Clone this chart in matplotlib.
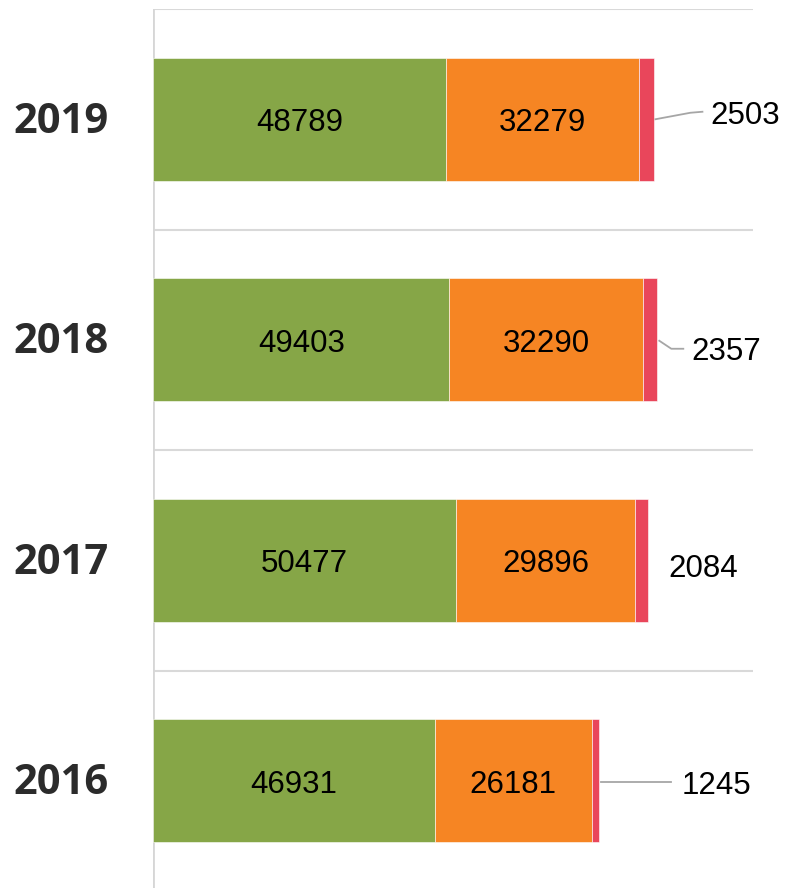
import numpy as np
import matplotlib.pyplot as plt
from matplotlib.transforms import offset_copy

# data, bottom to top
years = ['2016', '2017', '2018', '2019']
green_vals = [46931, 50477, 49403, 48789]
orange_vals = [26181, 29896, 32290, 32279]
red_vals = [1245, 2084, 2357, 2503]

colors = ['#86a647', '#f68523', '#e9465b']

fig = plt.figure(figsize=(7.85, 8.88), dpi=100)
ax = fig.add_axes([153/785, -3/888, 600/785, 882/888])

y = np.arange(len(years))
g = np.array(green_vals)
o = np.array(orange_vals)
r = np.array(red_vals)

ax.barh(y, g, height=0.56, color=colors[0], edgecolor='white', linewidth=0.4)
ax.barh(y, o, left=g, height=0.56, color=colors[1], edgecolor='white', linewidth=0.4)
ax.barh(y, r, left=g + o, height=0.56, color=colors[2], edgecolor='white', linewidth=0.4)

ax.set_xlim(0, 100000)
ax.set_ylim(-0.5, 3.5)

# band separators
for b in [0.5, 1.5, 2.5, 3.5]:
    ax.axhline(b, color='#d9d9d9', lw=1.5, zorder=0)
ax.axvline(0, color='#d6d6d6', lw=2, zorder=0)

for s in ax.spines.values():
    s.set_visible(False)
ax.set_xticks([])
ax.set_yticks([])

lab_font = dict(fontsize=22.5, family=['Liberation Sans', 'DejaVu Sans'], color='black')
# nudge text down a little, va='center' sits digits slightly high
tr_in = offset_copy(ax.transData, fig=fig, x=0, y=-4, units='dots')
tr_year = offset_copy(ax.get_yaxis_transform(), fig=fig, x=0, y=-3, units='dots')

for i in range(len(years)):
    ax.text(g[i] / 2, y[i], str(g[i]), transform=tr_in, ha='center', va='center', **lab_font)
    ax.text(g[i] + o[i] / 2, y[i], str(o[i]), transform=tr_in, ha='center', va='center', **lab_font)
    ax.text(-0.232, y[i], years[i], transform=tr_year,
            ha='left', va='center', fontsize=30, fontweight='bold',
            family=['Open Sans', 'DejaVu Sans'], color='#2b2b2b')

# outside labels for the small red segment, offsets in pixels
leaders = [
    [(2, -1), (72, -1)],
    [],
    [(2, -1), (14, -9), (26, -9)],
    [(1, 0), (36, 6.5), (48, 7.5)],
]
text_off = [(82, -1), (20.5, -4.5), (34, -8), (56, 7.5)]

for i in range(len(years)):
    tot = g[i] + o[i] + r[i]
    if leaders[i]:
        xs, ys = [], []
        for dx, dy in leaders[i]:
            px, py = ax.transData.transform((tot, y[i]))
            xs.append(px + dx)
            ys.append(py + dy)
        ax.plot(xs, ys, color='#a6a6a6', lw=1.3, transform=None, clip_on=False)
    tr = offset_copy(ax.transData, fig=fig, x=text_off[i][0], y=text_off[i][1] - 4, units='dots')
    ax.text(tot, y[i], str(r[i]), transform=tr, ha='left', va='center', clip_on=False, **lab_font)

fig.savefig('out.png', dpi=100)
